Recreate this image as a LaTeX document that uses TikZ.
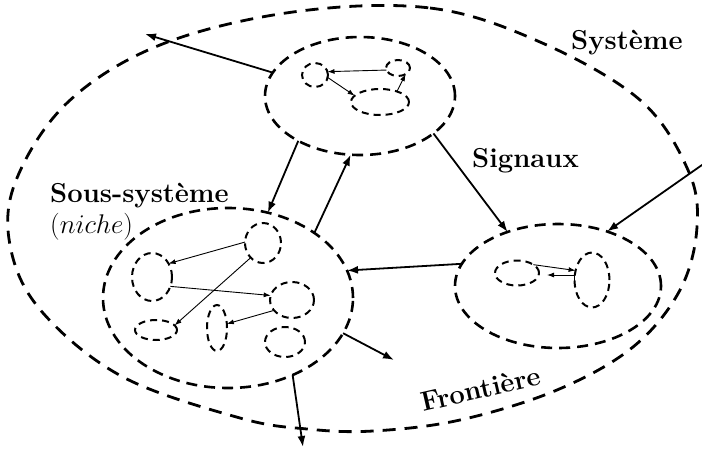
\documentclass[tikz,border=0pt]{standalone}
\usepackage{fix-cm}
\usepackage{fontspec}
\usetikzlibrary{shapes.geometric,arrows.meta,calc}
\begin{document}
\begin{tikzpicture}[x=1pt,y=-1pt,
  sz/.style 2 args={minimum width=#1, minimum height=#2},
  sub/.style={ellipse,draw,line width=2.6pt,dash pattern=on 11pt off 7pt,inner sep=0pt,outer sep=0pt},
  elem/.style={ellipse,draw,line width=2pt,dash pattern=on 7pt off 5pt,inner sep=0pt,outer sep=0pt},
  big/.style={line width=1.8pt,-{Latex[length=11pt,width=8pt]}},
  small/.style={line width=0.9pt,-{Latex[length=7pt,width=5pt]}},
  lbl/.style={font=\fontsize{27.4}{32}\selectfont\bfseries,inner sep=0pt},
  lblm/.style={font=\fontsize{27}{32}\selectfont,inner sep=0pt}]
\useasboundingbox (0,0) rectangle (702,448);

% outer boundary (system)
\draw[line width=2.8pt,dash pattern=on 13pt off 9pt]
  plot[smooth cycle,tension=0.6] coordinates {
  (293,12) (430,8) (540,42) (640,100) (688,170) (697,227) (680,290)
  (633,347) (557,390) (460,420) (373,431) (307,429) (240,418) (123,377)
  (43,313) (11,250) (15,183) (67,103) (160,45)};

% sub-systems
\node[sub,sz={190pt}{118pt}] (T) at (360,96) {};
\node[sub,sz={250pt}{180pt}] (L) at (228,298) {};
\node[sub,sz={206pt}{124pt}] (R) at (558,286) {};

% elements of T
\node[elem,sz={26pt}{24pt}] (t1) at (315,75) {};
\node[elem,sz={24pt}{16pt}] (t2) at (398,68) {};
\node[elem,sz={58pt}{26pt}] (t3) at (380,102) {};
% elements of L
\node[elem,sz={40pt}{48pt}] (A) at (152,277) {};
\node[elem,sz={36pt}{40pt}] (B) at (263,243) {};
\node[elem,sz={44pt}{36pt}] (C) at (292,300) {};
\node[elem,sz={42pt}{20pt}] (D) at (156,330) {};
\node[elem,sz={20pt}{46pt}] (E) at (217,328) {};
\node[elem,sz={40pt}{30pt}] (F) at (285,342) {};
% elements of R
\node[elem,sz={44pt}{25pt}] (G) at (517,273) {};
\node[elem,sz={35pt}{55pt}] (H) at (592,280) {};

% free ends
\coordinate (o1) at (145,34);
\coordinate (o2) at (712,158);
\coordinate (o3) at (394,360);
\coordinate (o4) at (303,447);

% main connectors
\draw[big] (T.165) -- (o1);
\draw[big] (T.216) -- (L.65);
\draw[big] (L.37) -- (T.261);
\draw[big] (T.-27) -- (R.133);
\draw[big] (R.167) -- (L.13.6);
\draw[big] (o2) -- (R.48);
\draw[big] (L.-17) -- (o3);
\draw[big] (L.-50) -- (o4);

% inner connectors
\draw[small] (t2.190) -- (t1.15);
\draw[small] (t1.-11) -- (t3.166);
\draw[small] (t3.32) -- (t2.-39);
\draw[small] (B.177) -- (A.39);
\draw[small] (A.-27) -- (C.168);
\draw[small] (B.230) -- (D.14);
\draw[small] (C.210) -- (E.23);
\draw[small] (G.27) -- (H.150);
\draw[small] (H.190) |- ([shift={(8pt,-2pt)}]G.east);

% labels
\node[lbl,anchor=base west] (sys) at (571,49) {Système};
\node[lbl,anchor=base west] (ss) at (50,202) {Sous-système};
\node[lblm,anchor=base west] (ni) at (50,233) {$(niche)$};
\node[lbl,anchor=base west] (sig) at (472,167) {Signaux};
\node[lbl,anchor=base west,rotate=13] (fr) at (423,412) {Frontière};
\end{tikzpicture}
\end{document}
